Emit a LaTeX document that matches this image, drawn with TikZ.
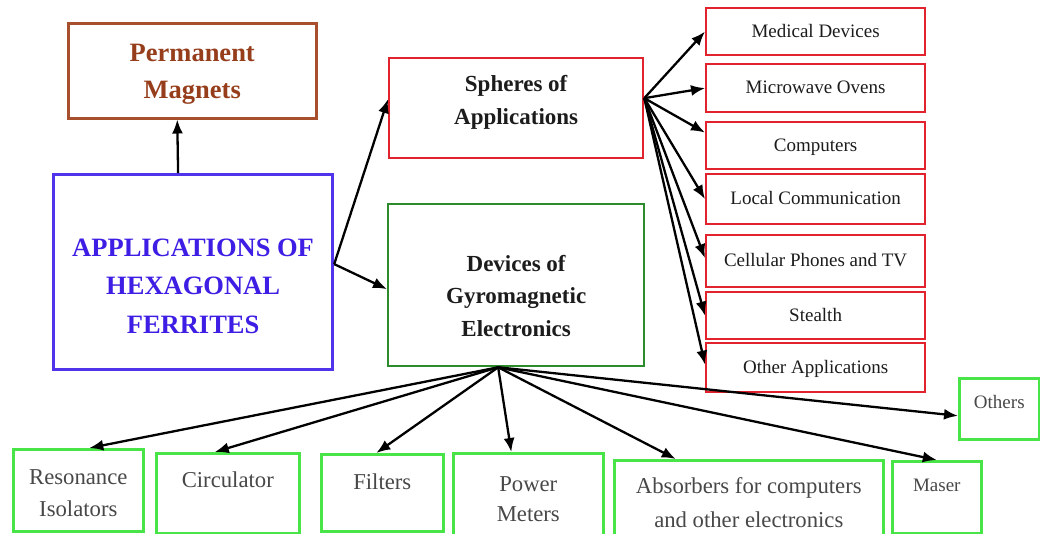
\documentclass[tikz,border=0pt]{standalone}
\usepackage{fontspec}
\setmainfont{Liberation Serif}[BoldFont={Liberation Serif Bold},ItalicFont={Liberation Serif Italic}]
\usetikzlibrary{arrows.meta}
\definecolor{brownb}{RGB}{168,80,45}
\definecolor{brownt}{RGB}{150,62,28}
\definecolor{blueb}{RGB}{80,52,235}
\definecolor{bluet}{RGB}{62,30,228}
\definecolor{redb}{RGB}{226,34,44}
\definecolor{dgreen}{RGB}{44,140,44}
\definecolor{bgreen}{RGB}{72,228,72}
\definecolor{darkt}{RGB}{28,28,28}
\definecolor{grayt}{RGB}{72,72,72}
\newcommand\txt[2]{\raisebox{#1}[\height][\depth]{\begin{tabular}{@{}c@{}}#2\end{tabular}}}
\begin{document}
\begin{tikzpicture}[x=1pt,y=-1pt,
  box/.style={draw, rectangle, anchor=north west, inner sep=0pt},
  rbox/.style={box, draw=redb, line width=2.2pt, minimum width=219pt, text=darkt,
    font=\fontsize{19}{23}\selectfont},
  gbox/.style={box, draw=bgreen, line width=2.6pt, text=grayt,
    font=\fontsize{22.7}{32}\selectfont},
  arr/.style={line width=2.3pt, draw=black, -{Latex[length=14pt,width=11pt]}},
]
\useasboundingbox (0,0) rectangle (1040,533);
\fill[white] (0,0) rectangle (1040,533);

% left part
\node[box, draw=brownb, line width=2.5pt, text=brownt, minimum width=248pt, minimum height=95pt,
  font=\fontsize{26.5}{37}\selectfont\bfseries] (perm) at (67,22) {\txt{-2pt}{Permanent\\Magnets}};
\node[box, draw=blueb, line width=3.2pt, text=bluet, minimum width=279pt, minimum height=195pt,
  font=\fontsize{26.5}{38.5}\selectfont\bfseries] (main) at (52,173) {\txt{-15pt}{APPLICATIONS OF\\HEXAGONAL\\FERRITES}};

% middle
\node[box, draw=redb, line width=2.3pt, text=darkt, minimum width=254pt, minimum height=100pt,
  font=\fontsize{23}{33}\selectfont\bfseries] (sph) at (388,57) {\txt{7pt}{Spheres of\\Applications}};
\node[box, draw=dgreen, line width=2.3pt, text=darkt, minimum width=256pt, minimum height=162pt,
  font=\fontsize{23}{32.5}\selectfont\bfseries] (dev) at (387,203) {\txt{-12pt}{Devices of\\Gyromagnetic\\Electronics}};

% right column
\node[rbox, minimum height=47pt] (med) at (705,7) {\txt{-1pt}{Medical Devices}};
\node[rbox, minimum height=48pt] (micro) at (705,63) {\txt{-1pt}{Microwave Ovens}};
\node[rbox, minimum height=47pt] (comp) at (705,121) {\txt{-1pt}{Computers}};
\node[rbox, minimum height=50pt] (local) at (705,173) {\txt{-1pt}{Local Communication}};
\node[rbox, minimum height=52pt] (cell) at (705,234) {\txt{-1pt}{Cellular Phones and TV}};
\node[rbox, minimum height=47pt] (stealth) at (705,291) {\txt{-1pt}{Stealth}};
\node[rbox, minimum height=49pt] (otherapp) at (705,342) {\txt{-1pt}{Other Applications}};

% bottom row
\node[gbox, minimum width=130pt, minimum height=82pt] (res) at (12,448) {\txt{-4pt}{Resonance\\Isolators}};
\node[gbox, minimum width=143pt, minimum height=80pt] (circ) at (155,452) {\txt{12pt}{Circulator}};
\node[gbox, minimum width=122pt, minimum height=77pt] (filt) at (320,453) {\txt{10pt}{Filters}};
\node[gbox, minimum width=150pt, minimum height=94pt, font=\fontsize{22.7}{30}\selectfont] (power) at (452,452) {\txt{0pt}{Power\\Meters}};
\node[gbox, minimum width=269pt, minimum height=86pt, font=\fontsize{22.7}{34}\selectfont] (absorb) at (613,459) {\txt{0pt}{Absorbers for computers\\and other electronics}};
\node[gbox, minimum width=89pt, minimum height=72pt, font=\fontsize{19}{23}\selectfont] (maser) at (891,460) {\txt{10pt}{Maser}};
\node[gbox, minimum width=80pt, minimum height=61pt, font=\fontsize{19}{23}\selectfont] (others) at (958,377) {\txt{5pt}{Others}};

% connectors
\draw[arr] ([xshift=-15pt]main.north) -- ([xshift=-15pt]perm.south);
\draw[arr] ([yshift=8pt]main.east) -- ([yshift=9pt]sph.west);
\draw[arr] ([yshift=8pt]main.east) -- ([yshift=-4pt]dev.west);

\draw[arr] ([yshift=10pt]sph.east) -- (med.west);
\draw[arr] ([yshift=10pt]sph.east) -- (micro.west);
\draw[arr] ([yshift=10pt]sph.east) -- ([yshift=13pt]comp.west);
\draw[arr] ([yshift=10pt]sph.east) -- (local.west);
\draw[arr] ([yshift=10pt]sph.east) -- ([yshift=3pt]cell.west);
\draw[arr] ([yshift=10pt]sph.east) -- (stealth.west);
\draw[arr] ([yshift=10pt]sph.east) -- ([yshift=3pt]otherapp.west);

\draw[arr] ([xshift=-18pt]dev.south) -- ([xshift=11pt]res.north);
\draw[arr] ([xshift=-18pt]dev.south) -- ([xshift=-13pt]circ.north);
\draw[arr] ([xshift=-18pt]dev.south) -- ([xshift=-6pt]filt.north);
\draw[arr] ([xshift=-18pt]dev.south) -- ([xshift=-17pt]power.north);
\draw[arr] ([xshift=-18pt]dev.south) -- ([xshift=-73pt]absorb.north);
\draw[arr] ([xshift=-18pt]dev.south) -- (maser.north);
\draw[arr] ([xshift=-18pt]dev.south) -- ([yshift=-7pt]others.west);
\end{tikzpicture}
\end{document}
